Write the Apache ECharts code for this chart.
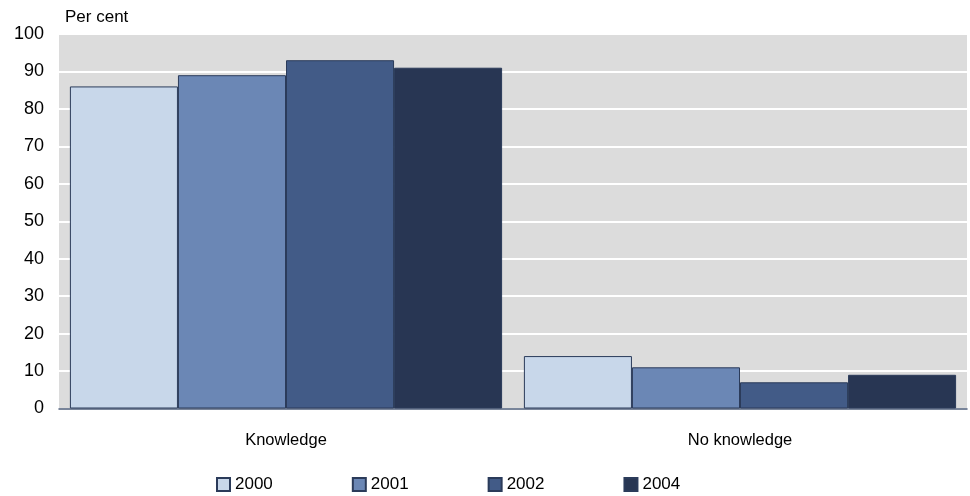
<!DOCTYPE html>
<html>
<head>
<meta charset="utf-8">
<script src="https://cdn.jsdelivr.net/npm/echarts@6/dist/echarts.min.js"></script>
<style>
  html, body { margin: 0; padding: 0; background: #ffffff; }
  #chart { width: 970px; height: 496px; }
</style>
</head>
<body>
<div id="chart"></div>
<script>
// Awareness of the topic, share of respondents by survey year
const categories = ['Knowledge', 'No knowledge'];
const years = ['2000', '2001', '2002', '2004'];
const values2000 = [86, 14];
const values2001 = [89, 11];
const values2002 = [93, 7];
const values2004 = [91, 9];
const yTicks = [0, 10, 20, 30, 40, 50, 60, 70, 80, 90, 100];

const seriesValues = [values2000, values2001, values2002, values2004];
const colors = ['#c8d7ea', '#6b87b5', '#425b87', '#283653'];
const fontFamily = '"Liberation Sans", Arial, sans-serif';

const chart = echarts.init(document.getElementById('chart'), null, { renderer: 'canvas' });

chart.setOption({
  animation: false,
  grid: {
    left: 59, right: 3, top: 34, bottom: 87.5,
    show: true, backgroundColor: '#dcdcdc', borderWidth: 0,
    containLabel: false
  },
  graphic: [{
    type: 'text', left: 65, top: 9,
    style: { text: 'Per cent', fill: '#000', font: '17px ' + fontFamily }
  }],
  legend: {
    data: years,
    left: 216, top: 476, padding: 0,
    itemWidth: 13, itemHeight: 13, itemGap: 79,
    icon: 'rect',
    textStyle: { fontFamily: fontFamily, fontSize: 17, color: '#000' }
  },
  xAxis: {
    type: 'category',
    data: categories,
    axisLine: { show: true, lineStyle: { color: '#4e5e7a', width: 1.5 } },
    axisTick: { show: false },
    axisLabel: { margin: 23, fontFamily: fontFamily, fontSize: 16.5, color: '#000' },
    splitLine: { show: false }
  },
  yAxis: {
    type: 'value',
    min: yTicks[0], max: yTicks[yTicks.length - 1], interval: 10,
    axisLine: { show: false },
    axisTick: { show: false },
    axisLabel: { margin: 15, fontFamily: fontFamily, fontSize: 18, color: '#000' },
    splitLine: { show: true, lineStyle: { color: '#ffffff', width: 2 } }
  },
  series: years.map((y, i) => ({
    name: y,
    type: 'bar',
    data: seriesValues[i],
    barGap: '0%',
    barCategoryGap: '4.8%',
    itemStyle: { color: colors[i], borderColor: '#2b3b5a', borderWidth: 1 }
  }))
});
</script>
</body>
</html>
